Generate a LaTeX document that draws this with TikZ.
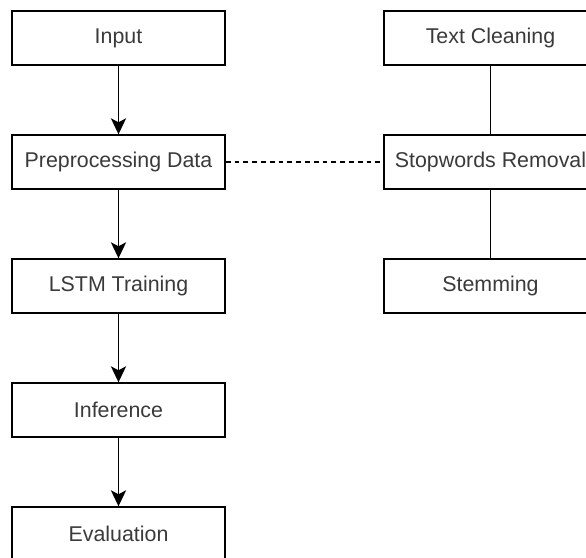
\documentclass[tikz,border=0pt]{standalone}
\usepackage{fontspec}
\setmainfont{Liberation Sans}
\usepackage{xcolor}
\usepackage{tikz}
\usetikzlibrary{arrows.meta}
\definecolor{txtGray}{HTML}{3A3A3A}
\tikzset{
box/.style = {rectangle, draw=black, line width=1pt, fill=white,
              minimum width = #1, minimum height=1.35cm,
              text=txtGray, font=\fontsize{15.2}{18}\selectfont},
box/.default = 5.325cm % width of the box
}
\tikzset{
flow/.style = {line width=1pt, -{Stealth[length=4mm, width=3.8mm, inset=1mm]}}
}

\begin{document}
\begin{tikzpicture}[x=0.025cm, y=-0.025cm]
    \useasboundingbox (0,0) rectangle (586,558);
    \clip (0,0) rectangle (586,558);

    \node[box] (input) at (118.5,38) {Input};
    \node[box] (prepData) at (118.5,162) {Preprocessing Data};
    \node[box] (lstmTrain) at (118.5,286) {LSTM Training};
    \node[box] (infer) at (118.5,410) {Inference};
    \node[box] (evalStep) at (118.5,534) {Evaluation};

    \node[box] (textClean) at (490.5,38) {Text Cleaning};
    \node[box] (stopRemove) at (490.5,162) {Stopwords Removal};
    \node[box] (stemStep) at (490.5,286) {Stemming};

    \draw[flow] (input) -- (prepData);
    \draw[flow] (prepData) -- (lstmTrain);
    \draw[flow] (lstmTrain) -- (infer);
    \draw[flow] (infer) -- (evalStep);

    \draw[line width=1pt] (textClean) -- (stopRemove);
    \draw[line width=1pt] (stopRemove) -- (stemStep);

\draw[line width=0.75pt, dash pattern=on 0.12cm off 0.1cm] (prepData) -- (stopRemove);
\end{tikzpicture}
\end{document}
